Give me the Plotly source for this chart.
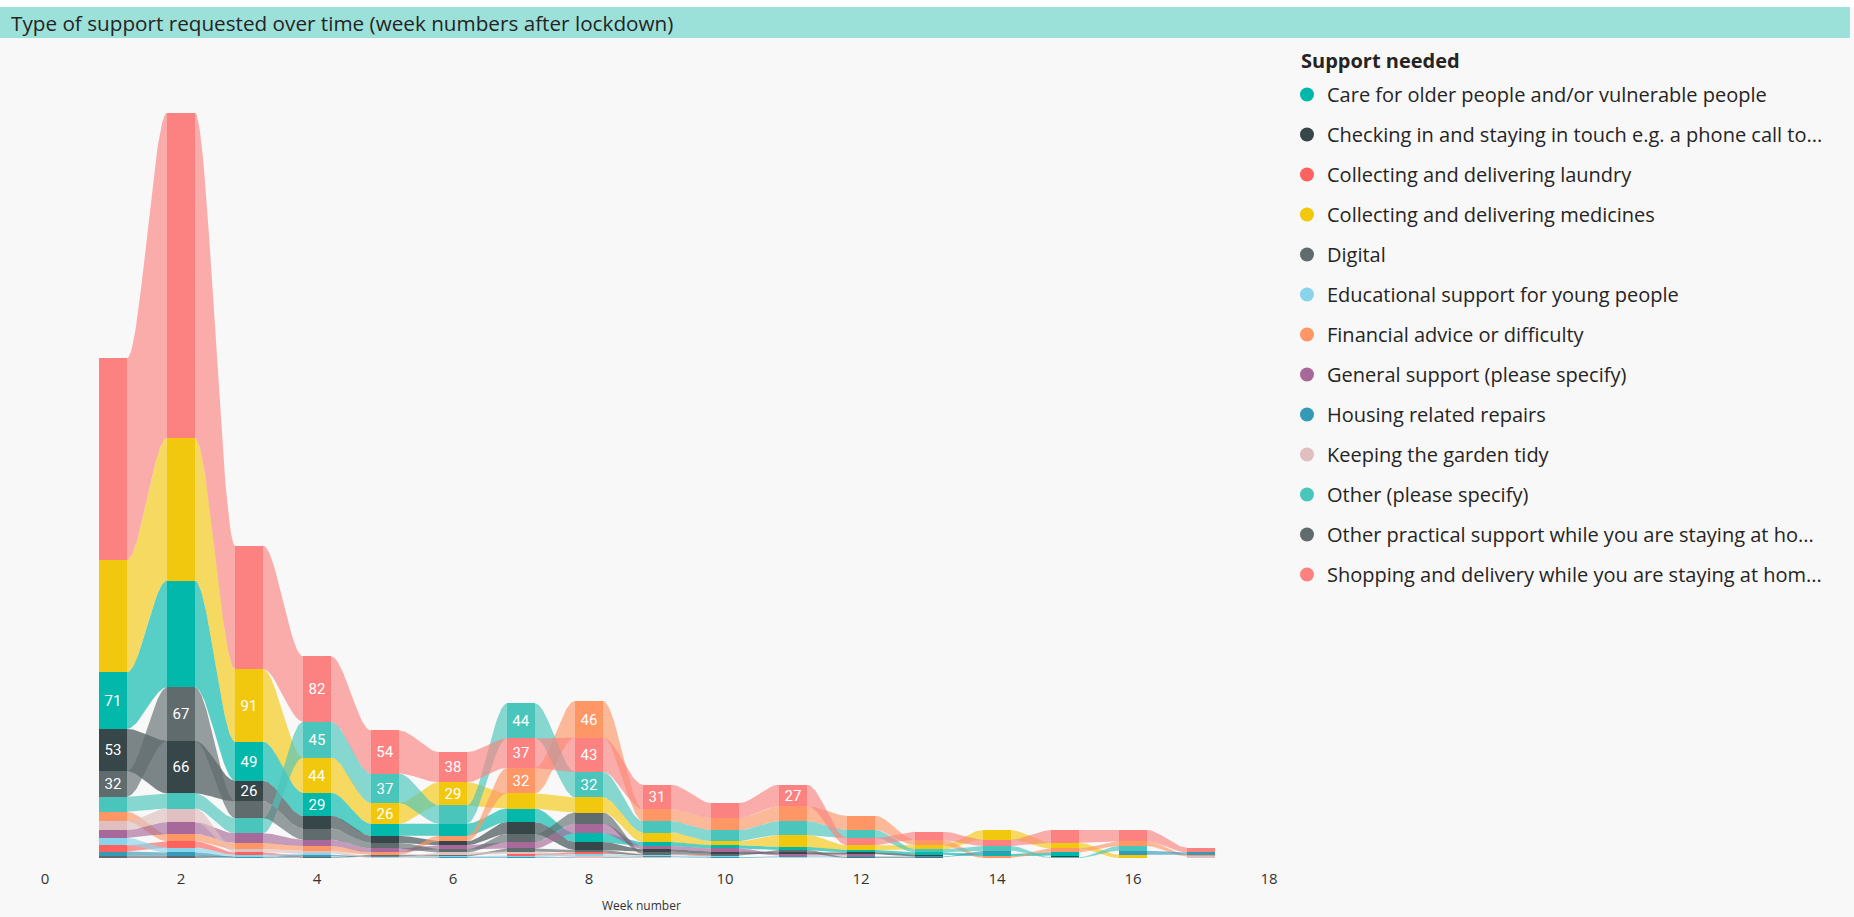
import plotly.graph_objects as go

# ---- data: support requests per week after lockdown ----
weeks = list(range(1, 18))

care = [71, 134, 49, 29, 15, 15, 17, 11, 5, 4, 4, 3, 3, 3, 4, 0, 0]
checking = [53, 66, 26, 16, 9, 5, 15, 10, 3, 3, 2, 2, 2, 0, 2, 0, 0]
laundry = [8, 8, 3, 1, 0, 0, 2, 2, 1, 1, 0, 1, 0, 0, 0, 0, 0]
medicines = [141, 179, 91, 44, 26, 29, 19, 19, 12, 5, 15, 6, 5, 12, 7, 4, 0]
digital = [3, 3, 1, 1, 2, 2, 4, 3, 1, 0, 1, 0, 0, 0, 0, 0, 0]
education = [9, 6, 2, 2, 0, 1, 2, 2, 1, 1, 0, 0, 0, 0, 0, 0, 0]
financial = [12, 9, 8, 6, 3, 7, 32, 46, 15, 15, 19, 18, 7, 2, 5, 6, 2]
general = [10, 15, 12, 8, 5, 5, 8, 12, 4, 4, 2, 2, 0, 0, 0, 0, 0]
housing = [5, 4, 1, 2, 1, 1, 1, 1, 1, 1, 1, 1, 1, 4, 0, 5, 3]
garden = [11, 17, 4, 3, 1, 3, 3, 2, 1, 0, 1, 0, 0, 0, 0, 0, 2]
other = [19, 19, 19, 45, 37, 23, 44, 32, 14, 14, 17, 10, 4, 6, 1, 6, 0]
other_practical = [32, 67, 21, 14, 7, 4, 10, 14, 3, 2, 3, 1, 1, 0, 0, 0, 0]
shopping = [253, 408, 155, 82, 54, 38, 37, 43, 31, 19, 27, 9, 10, 8, 16, 14, 6]

categories = [
    "Care for older people and/or vulnerable people",
    "Checking in and staying in touch e.g. a phone call to...",
    "Collecting and delivering laundry",
    "Collecting and delivering medicines",
    "Digital",
    "Educational support for young people",
    "Financial advice or difficulty",
    "General support (please specify)",
    "Housing related repairs",
    "Keeping the garden tidy",
    "Other (please specify)",
    "Other practical support while you are staying at ho...",
    "Shopping and delivery while you are staying at hom...",
]
series = [care, checking, laundry, medicines, digital, education, financial,
          general, housing, garden, other, other_practical, shopping]
colors = ["#01B8AA", "#374649", "#FD625E", "#F2C80F", "#5F6B6D", "#8AD4EB",
          "#FE9666", "#A66999", "#3599B8", "#DFBFBF", "#4AC5BB", "#5F6B6D",
          "#FB8281"]

x_ticks = [0, 2, 4, 6, 8, 10, 12, 14, 16, 18]

# ---- page geometry (pixels) ----
W, H = 1854, 917
PLOT_L, PLOT_R = 45, 1269
PLOT_T, PLOT_B = 50, 858
Y_MAX = 1013.8
BAR_W = 0.41


def px_x(p):
    return (p - PLOT_L) / (PLOT_R - PLOT_L)


def px_y(p):
    return (PLOT_B - p) / (PLOT_B - PLOT_T)


def rgba(hex_color, a):
    h = hex_color.lstrip("#")
    r, g, b = int(h[0:2], 16), int(h[2:4], 16), int(h[4:6], 16)
    return f"rgba({r},{g},{b},{a})"


# ---- ribbon stacking: largest category on top in each week ----
n_cat = len(series)
bottoms = [[0.0] * len(weeks) for _ in range(n_cat)]
for wi in range(len(weeks)):
    order = sorted(range(n_cat), key=lambda c: (series[c][wi], -c))
    acc = 0.0
    for c in order:
        bottoms[c][wi] = acc
        acc += series[c][wi]


def smooth(t):
    return t * t * (3 - 2 * t)


fig = go.Figure()

# ribbons between consecutive weeks
N = 40
for c in range(n_cat):
    xs, ys = [], []
    vals = series[c]
    for wi in range(len(weeks) - 1):
        if vals[wi] == 0 or vals[wi + 1] == 0:
            continue
        xa = weeks[wi] + BAR_W / 2
        xb = weeks[wi + 1] - BAR_W / 2
        b0, b1 = bottoms[c][wi], bottoms[c][wi + 1]
        t0, t1 = b0 + vals[wi], b1 + vals[wi + 1]
        ts = [i / N for i in range(N + 1)]
        top_x = [xa + (xb - xa) * t for t in ts]
        top_y = [t0 + (t1 - t0) * smooth(t) for t in ts]
        bot_y = [b0 + (b1 - b0) * smooth(t) for t in ts]
        xs += top_x + top_x[::-1] + [None]
        ys += top_y + bot_y[::-1] + [None]
    fig.add_trace(go.Scatter(
        x=xs, y=ys, mode="lines", fill="toself",
        fillcolor=rgba(colors[c], 0.65), line=dict(width=0),
        hoverinfo="skip", showlegend=False,
    ))

# solid bars for each week
for c in range(n_cat):
    vals = series[c]
    labels = [str(v) if 26 <= v <= 99 else "" for v in vals]
    fig.add_trace(go.Bar(
        x=weeks, y=vals, base=bottoms[c], width=BAR_W,
        marker=dict(color=colors[c], line=dict(width=0)),
        text=labels, textposition="inside", insidetextanchor="middle",
        textangle=0,
        textfont=dict(family="Roboto, DejaVu Sans", size=15, color="#FFFFFF"),
        name=categories[c], showlegend=False,
        hovertemplate="Week %{x}<br>" + categories[c] + ": %{y}<extra></extra>",
    ))

# legend entries
for c in range(n_cat):
    fig.add_trace(go.Scatter(
        x=[None], y=[None], mode="markers",
        marker=dict(color=colors[c], size=14, symbol="circle"),
        name=categories[c], legendgroup=f"g{c}", showlegend=True,
    ))

shapes = [
    dict(type="rect", xref="paper", yref="paper",
         x0=px_x(0), x1=px_x(W), y0=px_y(0), y1=px_y(7),
         fillcolor="#FFFFFF", line=dict(width=0), layer="below"),
    dict(type="rect", xref="paper", yref="paper",
         x0=px_x(0), x1=px_x(1850), y0=px_y(7), y1=px_y(38),
         fillcolor="#9BE1DA", line=dict(width=0), layer="below"),
]

annotations = [
    dict(text="Type of support requested over time (week numbers after lockdown)",
         xref="paper", yref="paper", x=px_x(9), y=px_y(23),
         xanchor="left", yanchor="middle", showarrow=False,
         font=dict(size=20.7, color="#252423")),
    dict(text="<b>Support needed</b>",
         xref="paper", yref="paper", x=px_x(1299), y=px_y(60),
         xanchor="left", yanchor="middle", showarrow=False,
         font=dict(size=20, color="#252423")),
    dict(text="Week number",
         xref="paper", yref="paper", x=px_x(641), y=px_y(905),
         xanchor="center", yanchor="middle", showarrow=False,
         font=dict(size=12, color="#333333")),
]

fig.update_layout(
    width=W, height=H,
    margin=dict(l=PLOT_L, r=W - PLOT_R, t=PLOT_T, b=H - PLOT_B),
    paper_bgcolor="#F9F8F8", plot_bgcolor="rgba(0,0,0,0)",
    barmode="overlay", bargap=0,
    uniformtext=dict(minsize=15, mode="show"),
    font=dict(family="Open Sans, Noto Sans, sans-serif", color="#252423"),
    shapes=shapes,
    annotations=annotations,
    xaxis=dict(
        range=[0, 18], tickvals=x_ticks, showgrid=False, zeroline=False,
        showline=False, ticks="", tickfont=dict(size=15, color="#333333"),
        ticklabelstandoff=10,
    ),
    yaxis=dict(range=[0, Y_MAX], visible=False, fixedrange=True),
    legend=dict(
        x=px_x(1287), y=px_y(75), xanchor="left", yanchor="top",
        bgcolor="rgba(0,0,0,0)", tracegroupgap=11, maxheight=850,
        font=dict(size=20, color="#252423"),
        itemclick=False, itemdoubleclick=False,
    ),
    showlegend=True,
)

fig.write_html("out.html")
